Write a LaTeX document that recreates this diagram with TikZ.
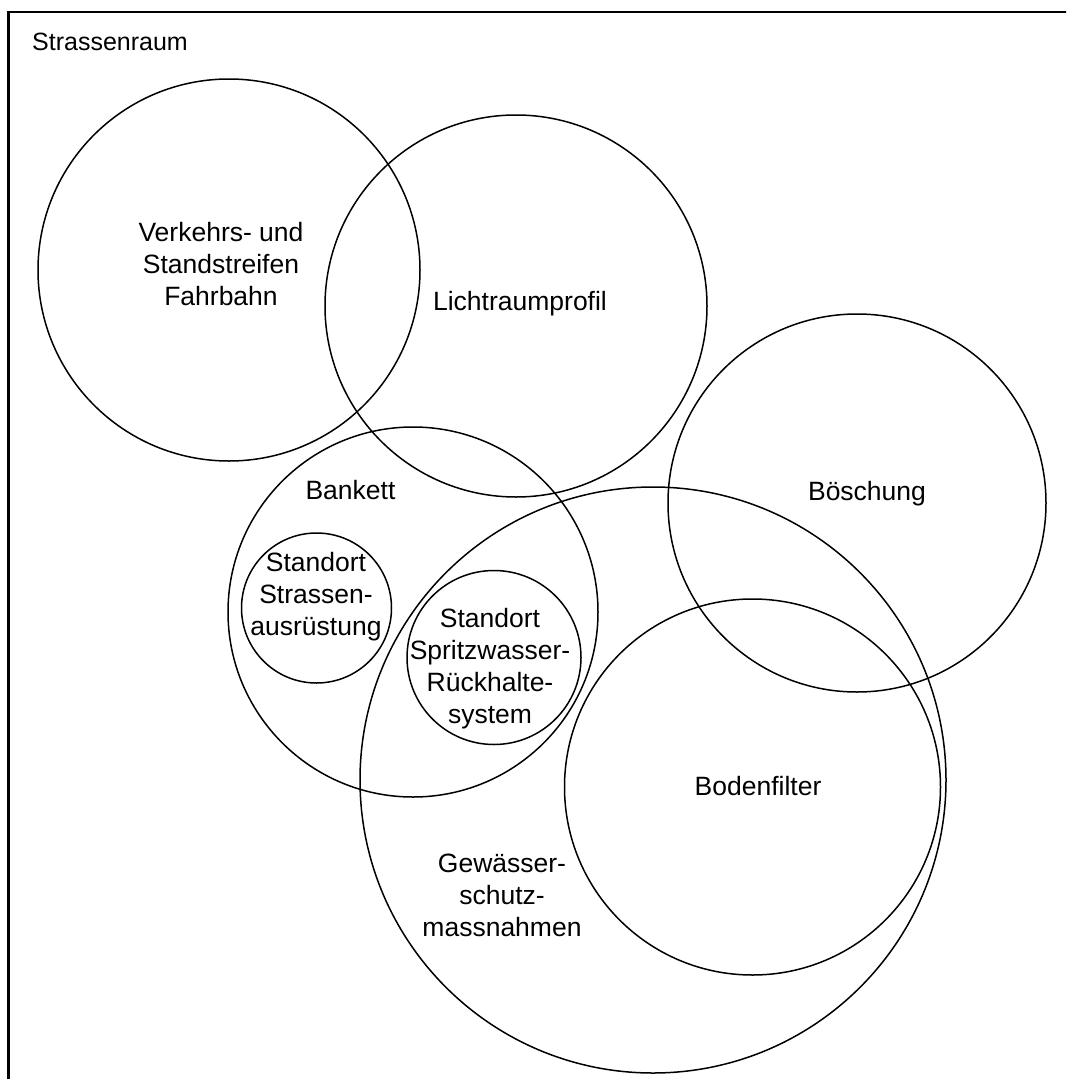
\documentclass[tikz,border=0pt]{standalone}
\usepackage{fontspec}
\setmainfont{Liberation Sans}
\begin{document}
\begin{tikzpicture}[x=1pt,y=-1pt,
  ring/.style={draw=black, line width=1.5pt},
  frame/.style={draw=black, line width=2.3pt},
  lbl/.style={inner sep=0pt, align=center, anchor=base, font=\fontsize{26.5}{32}\selectfont}]
\useasboundingbox (0,0) rectangle (1066,1079);
\clip (0,0) rectangle (1066,1079);
\draw[frame] (8.5,12) rectangle (1120,1120);
% circles
\draw[ring] (229,270) circle[radius=191pt];
\draw[ring] (516,306) circle[radius=191pt];
\draw[ring] (413,612) circle[radius=185pt];
\draw[ring] (316.5,608) circle[radius=75pt];
\draw[ring] (494,657.5) circle[radius=87pt];
\draw[ring] (653,780) circle[radius=293pt];
\draw[ring] (857,503) circle[radius=189pt];
\draw[ring] (752.5,787) circle[radius=188pt];
% labels (anchor base = baseline of the last line)
\node[inner sep=0pt, anchor=base west, font=\fontsize{25}{30}\selectfont] (raum) at (32,50) {Strassenraum};
\node[lbl] (verkehr) at (221,305) {Verkehrs- und\\Standstreifen\\Fahrbahn};
\node[lbl] (licht) at (520,310.5) {Lichtraumprofil};
\node[lbl] (bankett) at (350.5,499) {Bankett};
\node[lbl] (ausr) at (316,635.5) {Standort\\Strassen-\\ausrüstung};
\node[lbl] (spritz) at (490,723) {Standort\\Spritzwasser-\\Rückhalte-\\system};
\node[lbl] (boesch) at (867,500) {Böschung};
\node[lbl] (boden) at (758,795.5) {Bodenfilter};
\node[lbl] (gew) at (502,936) {Gewässer-\\schutz-\\massnahmen};
\end{tikzpicture}
\end{document}
